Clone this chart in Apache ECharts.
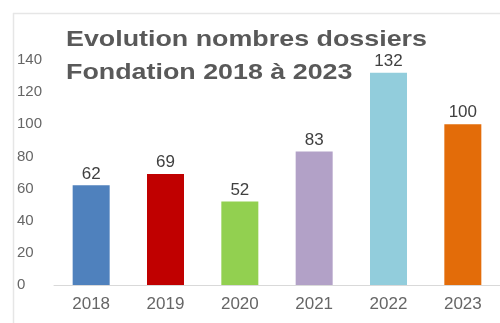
<!DOCTYPE html>
<html>
<head>
<meta charset="utf-8">
<script src="https://cdn.jsdelivr.net/npm/echarts@6/dist/echarts.min.js"></script>
<style>
  html, body { margin: 0; padding: 0; background: #ffffff; }
  #chart { width: 500px; height: 323px; }
</style>
</head>
<body>
<div id="chart"></div>
<script>
// Yearly number of files handled by the foundation
const years = ['2018', '2019', '2020', '2021', '2022', '2023'];
const dossiers = [62, 69, 52, 83, 132, 100];
const barColors = ['#4f81bd', '#c00000', '#92d050', '#b2a1c7', '#92cddc', '#e36c09'];
const yTicks = [0, 20, 40, 60, 80, 100, 120, 140];

const chart = echarts.init(document.getElementById('chart'), null, { renderer: 'canvas' });

chart.setOption({
  animation: false,
  backgroundColor: '#ffffff',
  textStyle: { fontFamily: '"Liberation Sans", Arial, sans-serif' },
  graphic: [
    // light frame around the plot area
    { type: 'line', shape: { x1: 13, y1: 13.5, x2: 500, y2: 13.5 }, style: { stroke: '#e6e6e6', lineWidth: 1.5 }, silent: true },
    { type: 'line', shape: { x1: 13.5, y1: 13, x2: 13.5, y2: 323 }, style: { stroke: '#e6e6e6', lineWidth: 1.5 }, silent: true },
    {
      // wide bold title, stretched horizontally
      type: 'text', x: 66, y: 23, scaleX: 1.22, scaleY: 1, z: 10,
      style: {
        text: 'Evolution nombres dossiers\nFondation 2018 à 2023',
        fill: '#595959',
        font: 'bold 22px "Liberation Sans", Arial, sans-serif',
        lineHeight: 33
      }
    }
  ],
  grid: { left: 54, right: -3, top: 60, bottom: 38, containLabel: false },
  xAxis: {
    type: 'category',
    data: years,
    axisLine: { show: true, lineStyle: { color: '#d9d9d9', width: 1 } },
    axisTick: { show: false },
    axisLabel: { color: '#666666', fontSize: 17, margin: 11 }
  },
  yAxis: {
    type: 'value',
    min: yTicks[0],
    max: yTicks[yTicks.length - 1],
    interval: yTicks[1] - yTicks[0],
    axisLine: { show: false },
    axisTick: { show: false },
    splitLine: { show: false },
    axisLabel: { color: '#666666', fontSize: 15, align: 'left', margin: 37 }
  },
  series: [{
    type: 'bar',
    barWidth: 37,
    data: dossiers.map((v, i) => ({ value: v, itemStyle: { color: barColors[i] } })),
    label: {
      show: true,
      position: 'top',
      distance: 3,
      color: '#404040',
      fontSize: 17
    }
  }]
});
</script>
</body>
</html>
